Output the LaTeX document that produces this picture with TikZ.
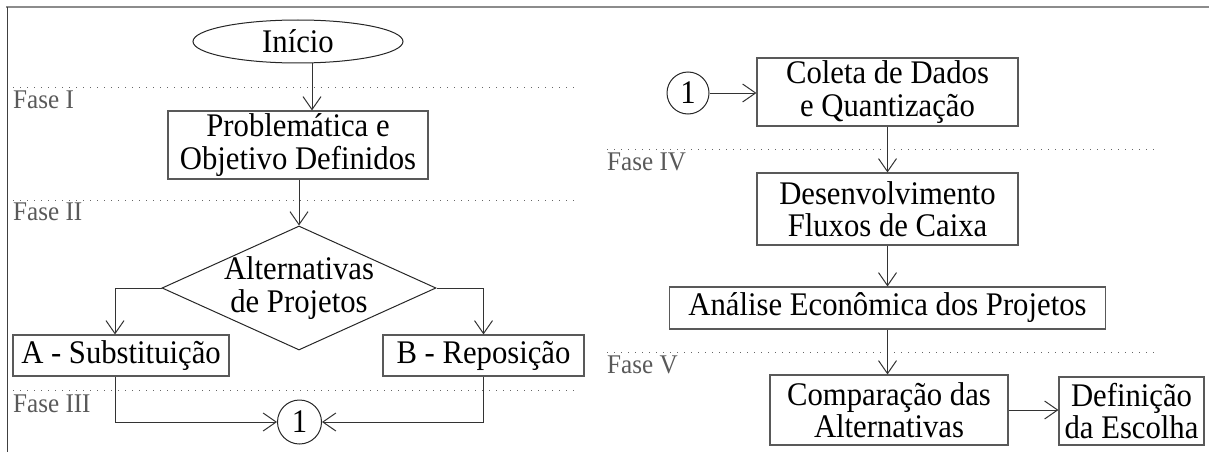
\documentclass[tikz,border=0pt]{standalone}
\usepackage{fontspec}
\setmainfont[FakeStretch=0.93]{Liberation Serif}
\usetikzlibrary{arrows.meta,shapes.geometric}

\begin{document}
\begin{tikzpicture}[x=1pt,y=-1pt,
  txt/.style={font=\fontsize{33}{32.5}\selectfont, text=black, align=center, inner sep=0pt},
  boxnode/.style={txt, rectangle, draw=black!65, line width=1.1pt},
  outline/.style={draw=black!85, line width=1pt},
  arr/.style={draw=black!80, line width=1pt, -{Straight Barb[length=13pt,width=18pt]}},
  phase/.style={draw=black!60, line width=1pt, dash pattern=on 1pt off 6pt},
  phaselbl/.style={font=\fontsize{27}{27}\selectfont, text=black!65, anchor=base west, inner sep=0pt},
]
\useasboundingbox (0,0) rectangle (1209,452);

% frame
\draw[black!45, line width=2pt] (6,7) -- (1209,7);
\draw[black!75, line width=1pt] (7,7) -- (7,452);

% phase separators and their labels
\draw[phase] (13,87) -- (577,87);
\draw[phase] (13,200) -- (577,200);
\draw[phase] (13,390) -- (577,390);
\draw[phase] (607,149) -- (1160,149);
\draw[phase] (607,352) -- (1160,352);
\node[phaselbl] (f1) at (13,108) {Fase I};
\node[phaselbl] (f2) at (13,220) {Fase II};
\node[phaselbl] (f3) at (13,412) {Fase III};
\node[phaselbl] (f4) at (607,170) {Fase IV};
\node[phaselbl] (f5) at (607,373) {Fase V};

% left column
\node[txt, ellipse, outline, minimum width=210pt, minimum height=43pt] (inicio) at (298,41.5) {Início};
\node[boxnode, minimum width=260pt, minimum height=68pt] (prob) at (298,145) {Problemática e\\Objetivo Definidos};
\node[diamond, outline, inner sep=0pt, minimum width=274pt, minimum height=124pt] (alt) at (299,288) {};
\node[txt] (altlbl) at (alt.center) {Alternativas\\de Projetos};
\node[boxnode, minimum width=216pt, minimum height=41pt] (subA) at (121,355.5) {A - Substituição};
\node[boxnode, minimum width=201pt, minimum height=41pt] (subB) at (483.5,355.5) {B - Reposição};
\node[txt, circle, outline, minimum size=44pt] (c1) at (299.5,422) {1};

% right column
\node[txt, circle, outline, minimum size=42pt] (c2) at (688,93) {1};
\node[boxnode, minimum width=261pt, minimum height=68pt] (coleta) at (887.5,92) {Coleta de Dados\\e Quantização};
\node[boxnode, minimum width=261pt, minimum height=72pt] (desenv) at (887.5,209) {Desenvolvimento\\Fluxos de Caixa};
\node[boxnode, minimum width=436pt, minimum height=42pt] (analise) at (887.5,308) {Análise Econômica dos Projetos};
\node[boxnode, minimum width=238pt, minimum height=70pt] (comp) at (889,410) {Comparação das\\Alternativas};
\node[boxnode, minimum width=145pt, minimum height=68pt] (defin) at (1131.5,411) {Definição\\da Escolha};

% connectors
\coordinate (t1) at ([xshift=14pt]inicio.south);
\draw[arr] (t1) -- (t1 |- prob.north);
\draw[arr] (alt.north |- prob.south) -- (alt.north);
\coordinate (aA) at ([xshift=-6pt]subA.north);
\draw[arr] (alt.west) -| (aA);
\draw[arr] (alt.east) -| (subB.north);
\draw[arr] ([xshift=-6pt]subA.south) |- (c1.west);
\draw[arr] (subB.south) |- (c1.east);
\draw[arr] (c2.east) -- (c2.east -| coleta.west);
\draw[arr] (coleta.south) -- (desenv.north);
\draw[arr] (desenv.south) -- (analise.north);
\draw[arr] (analise.south) -- (analise.south |- comp.north);
\draw[arr] (comp.east) -- (comp.east -| defin.west);
\end{tikzpicture}
\end{document}
